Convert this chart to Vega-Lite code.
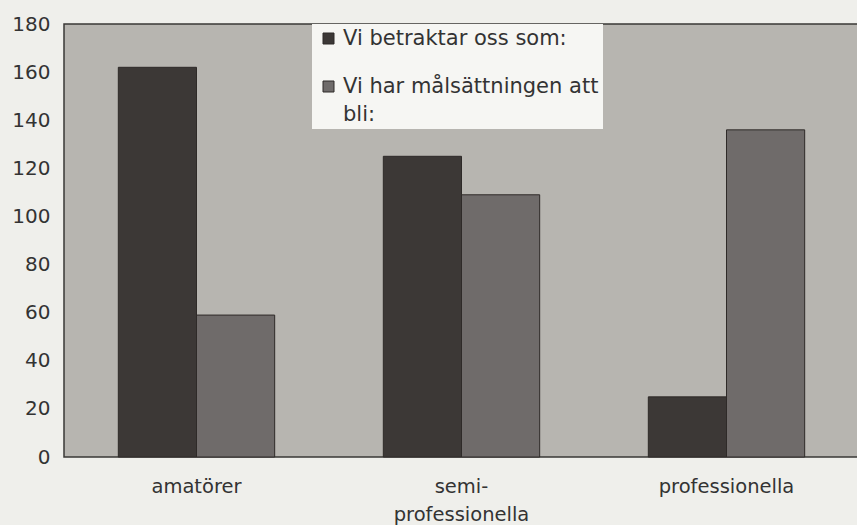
{
  "$schema": "https://vega.github.io/schema/vega-lite/v6.json",
  "width": 795,
  "height": 433,
  "autosize": {"type": "none"},
  "padding": {"left": 64, "top": 24, "right": 0, "bottom": 68},
  "background": "#efefeb",
  "config": {
    "font": "DejaVu Sans",
    "view": {"fill": "#b7b5b0", "stroke": "#3a3836", "strokeWidth": 1.5}
  },
  "data": {
    "values": [
      {"grupp": "amatörer", "serie": "Vi betraktar oss som:", "antal": 162},
      {"grupp": "amatörer", "serie": "Vi har målsättningen att bli:", "antal": 59},
      {"grupp": "semi-professionella", "serie": "Vi betraktar oss som:", "antal": 125},
      {"grupp": "semi-professionella", "serie": "Vi har målsättningen att bli:", "antal": 109},
      {"grupp": "professionella", "serie": "Vi betraktar oss som:", "antal": 25},
      {"grupp": "professionella", "serie": "Vi har målsättningen att bli:", "antal": 136}
    ]
  },
  "mark": {"type": "bar", "stroke": "#2e2a28", "strokeWidth": 1},
  "encoding": {
    "x": {
      "field": "grupp",
      "type": "nominal",
      "sort": ["amatörer", "semi-professionella", "professionella"],
      "scale": {"paddingInner": 0.41, "paddingOuter": 0.205},
      "axis": {
        "title": null,
        "labelAngle": 0,
        "ticks": false,
        "domain": false,
        "labelFontSize": 19.5,
        "labelColor": "#333333",
        "labelPadding": 20,
        "labelLineHeight": 28,
        "labelExpr": "datum.label == 'semi-professionella' ? ['semi-', 'professionella'] : datum.label"
      }
    },
    "xOffset": {
      "field": "serie",
      "type": "nominal",
      "sort": ["Vi betraktar oss som:", "Vi har målsättningen att bli:"],
      "scale": {"paddingInner": 0, "paddingOuter": 0}
    },
    "y": {
      "field": "antal",
      "type": "quantitative",
      "scale": {"domain": [0, 180], "nice": false},
      "axis": {
        "title": null,
        "values": [0, 20, 40, 60, 80, 100, 120, 140, 160, 180],
        "grid": false,
        "ticks": false,
        "domain": false,
        "labelFontSize": 20,
        "labelColor": "#333333",
        "labelPadding": 14
      }
    },
    "color": {
      "field": "serie",
      "type": "nominal",
      "sort": ["Vi betraktar oss som:", "Vi har målsättningen att bli:"],
      "scale": {
        "domain": ["Vi betraktar oss som:", "Vi har målsättningen att bli:"],
        "range": ["#3c3836", "#6f6b6a"]
      },
      "legend": {
        "title": null,
        "orient": "none",
        "legendX": 248,
        "legendY": 0,
        "fillColor": "#f6f6f3",
        "padding": 4,
        "symbolOffset": 2,
        "symbolType": "square",
        "symbolSize": 121,
        "symbolStrokeColor": "#2e2a28",
        "symbolStrokeWidth": 1,
        "labelFontSize": 21,
        "labelColor": "#333333",
        "labelLimit": 320,
        "labelOffset": 4,
        "labelBaseline": "middle",
        "rowPadding": 26,
        "labelExpr": "datum.label == 'Vi har målsättningen att bli:' ? ['Vi har målsättningen att', 'bli:'] : datum.label",
        "encode": {
          "labels": {
            "update": {
              "lineHeight": {"value": 28}
            }
          }
        }
      }
    }
  }
}
